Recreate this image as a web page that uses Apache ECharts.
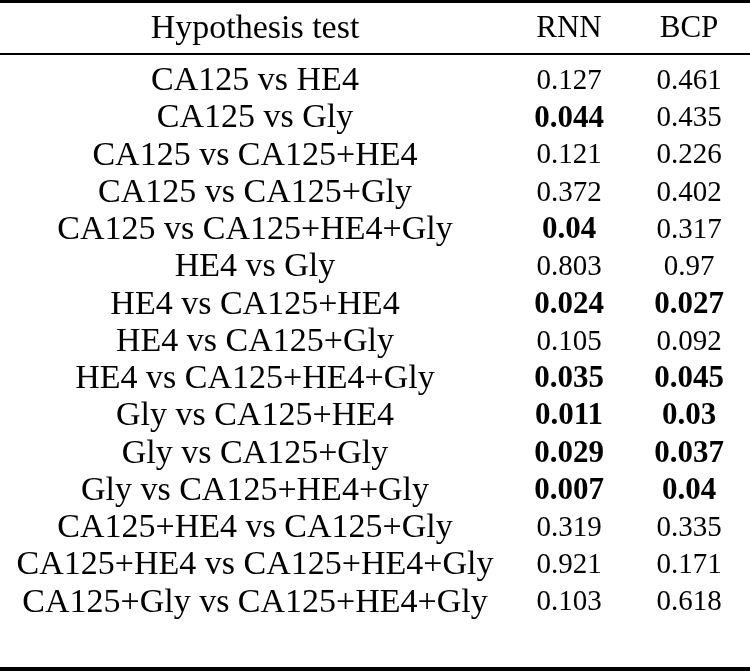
<!DOCTYPE html>
<html>
<head>
<meta charset="utf-8">
<script src="https://cdn.jsdelivr.net/npm/echarts@6/dist/echarts.min.js"></script>
<style>
html,body{margin:0;padding:0;background:#fff;}
#chart{width:750px;height:671px;}
</style>
</head>
<body>
<div id="chart"></div>
<script>
// ---- data ----
const headers = ['Hypothesis test', 'RNN', 'BCP'];
const hypotheses = [
  'CA125 vs HE4',
  'CA125 vs Gly',
  'CA125 vs CA125+HE4',
  'CA125 vs CA125+Gly',
  'CA125 vs CA125+HE4+Gly',
  'HE4 vs Gly',
  'HE4 vs CA125+HE4',
  'HE4 vs CA125+Gly',
  'HE4 vs CA125+HE4+Gly',
  'Gly vs CA125+HE4',
  'Gly vs CA125+Gly',
  'Gly vs CA125+HE4+Gly',
  'CA125+HE4 vs CA125+Gly',
  'CA125+HE4 vs CA125+HE4+Gly',
  'CA125+Gly vs CA125+HE4+Gly'
];
const rnnValues = [0.127, 0.044, 0.121, 0.372, 0.04, 0.803, 0.024, 0.105, 0.035, 0.011, 0.029, 0.007, 0.319, 0.921, 0.103];
const bcpValues = [0.461, 0.435, 0.226, 0.402, 0.317, 0.97, 0.027, 0.092, 0.045, 0.03, 0.037, 0.04, 0.335, 0.171, 0.618];
const significance = 0.05;

// ---- layout (not data) ----
const COL_X = [255, 569, 689];
const FONT = '"Liberation Serif", "Times New Roman", serif';
const HEADER_Y = 28.8;

const chart = echarts.init(document.getElementById('chart'), null, {renderer: 'canvas'});

function textSeries(col, values, isNumber) {
  return {
    type: 'scatter',
    symbolSize: 0,
    silent: true,
    animation: false,
    itemStyle: {opacity: 1},
    data: values.map((v, i) => {
      const bold = isNumber && v < significance;
      return {
        value: [COL_X[col], i],
        label: {
          show: true,
          position: 'inside',
          formatter: String(v),
          fontFamily: FONT,
          fontSize: isNumber ? (bold ? 31 : 29) : 34,
          fontWeight: bold ? 'bold' : 'normal',
          color: '#000',
          opacity: 1,
          align: 'center',
          verticalAlign: 'middle'
        }
      };
    })
  };
}

const option = {
  backgroundColor: '#fff',
  animation: false,
  grid: {left: 0, right: 0, top: 62.7, height: 558.5, containLabel: false},
  xAxis: {type: 'value', min: 0, max: 750, show: false},
  yAxis: {type: 'category', data: hypotheses, inverse: true, show: false, boundaryGap: true},
  graphic: [
    {type: 'rect', shape: {x: 0, y: 0, width: 750, height: 3}, style: {fill: '#000'}},
    {type: 'rect', shape: {x: 0, y: 53, width: 750, height: 2}, style: {fill: '#000'}},
    {type: 'rect', shape: {x: 0, y: 667, width: 750, height: 4}, style: {fill: '#000'}},
    {type: 'text', x: COL_X[0], y: HEADER_Y, style: {text: headers[0], font: '34px ' + FONT, fill: '#000', align: 'center', verticalAlign: 'middle'}},
    {type: 'text', x: COL_X[1], y: HEADER_Y, style: {text: headers[1], font: '31px ' + FONT, fill: '#000', align: 'center', verticalAlign: 'middle'}},
    {type: 'text', x: COL_X[2], y: HEADER_Y, style: {text: headers[2], font: '31px ' + FONT, fill: '#000', align: 'center', verticalAlign: 'middle'}}
  ],
  series: [
    textSeries(0, hypotheses, false),
    textSeries(1, rnnValues, true),
    textSeries(2, bcpValues, true)
  ]
};
chart.setOption(option);
</script>
</body>
</html>
